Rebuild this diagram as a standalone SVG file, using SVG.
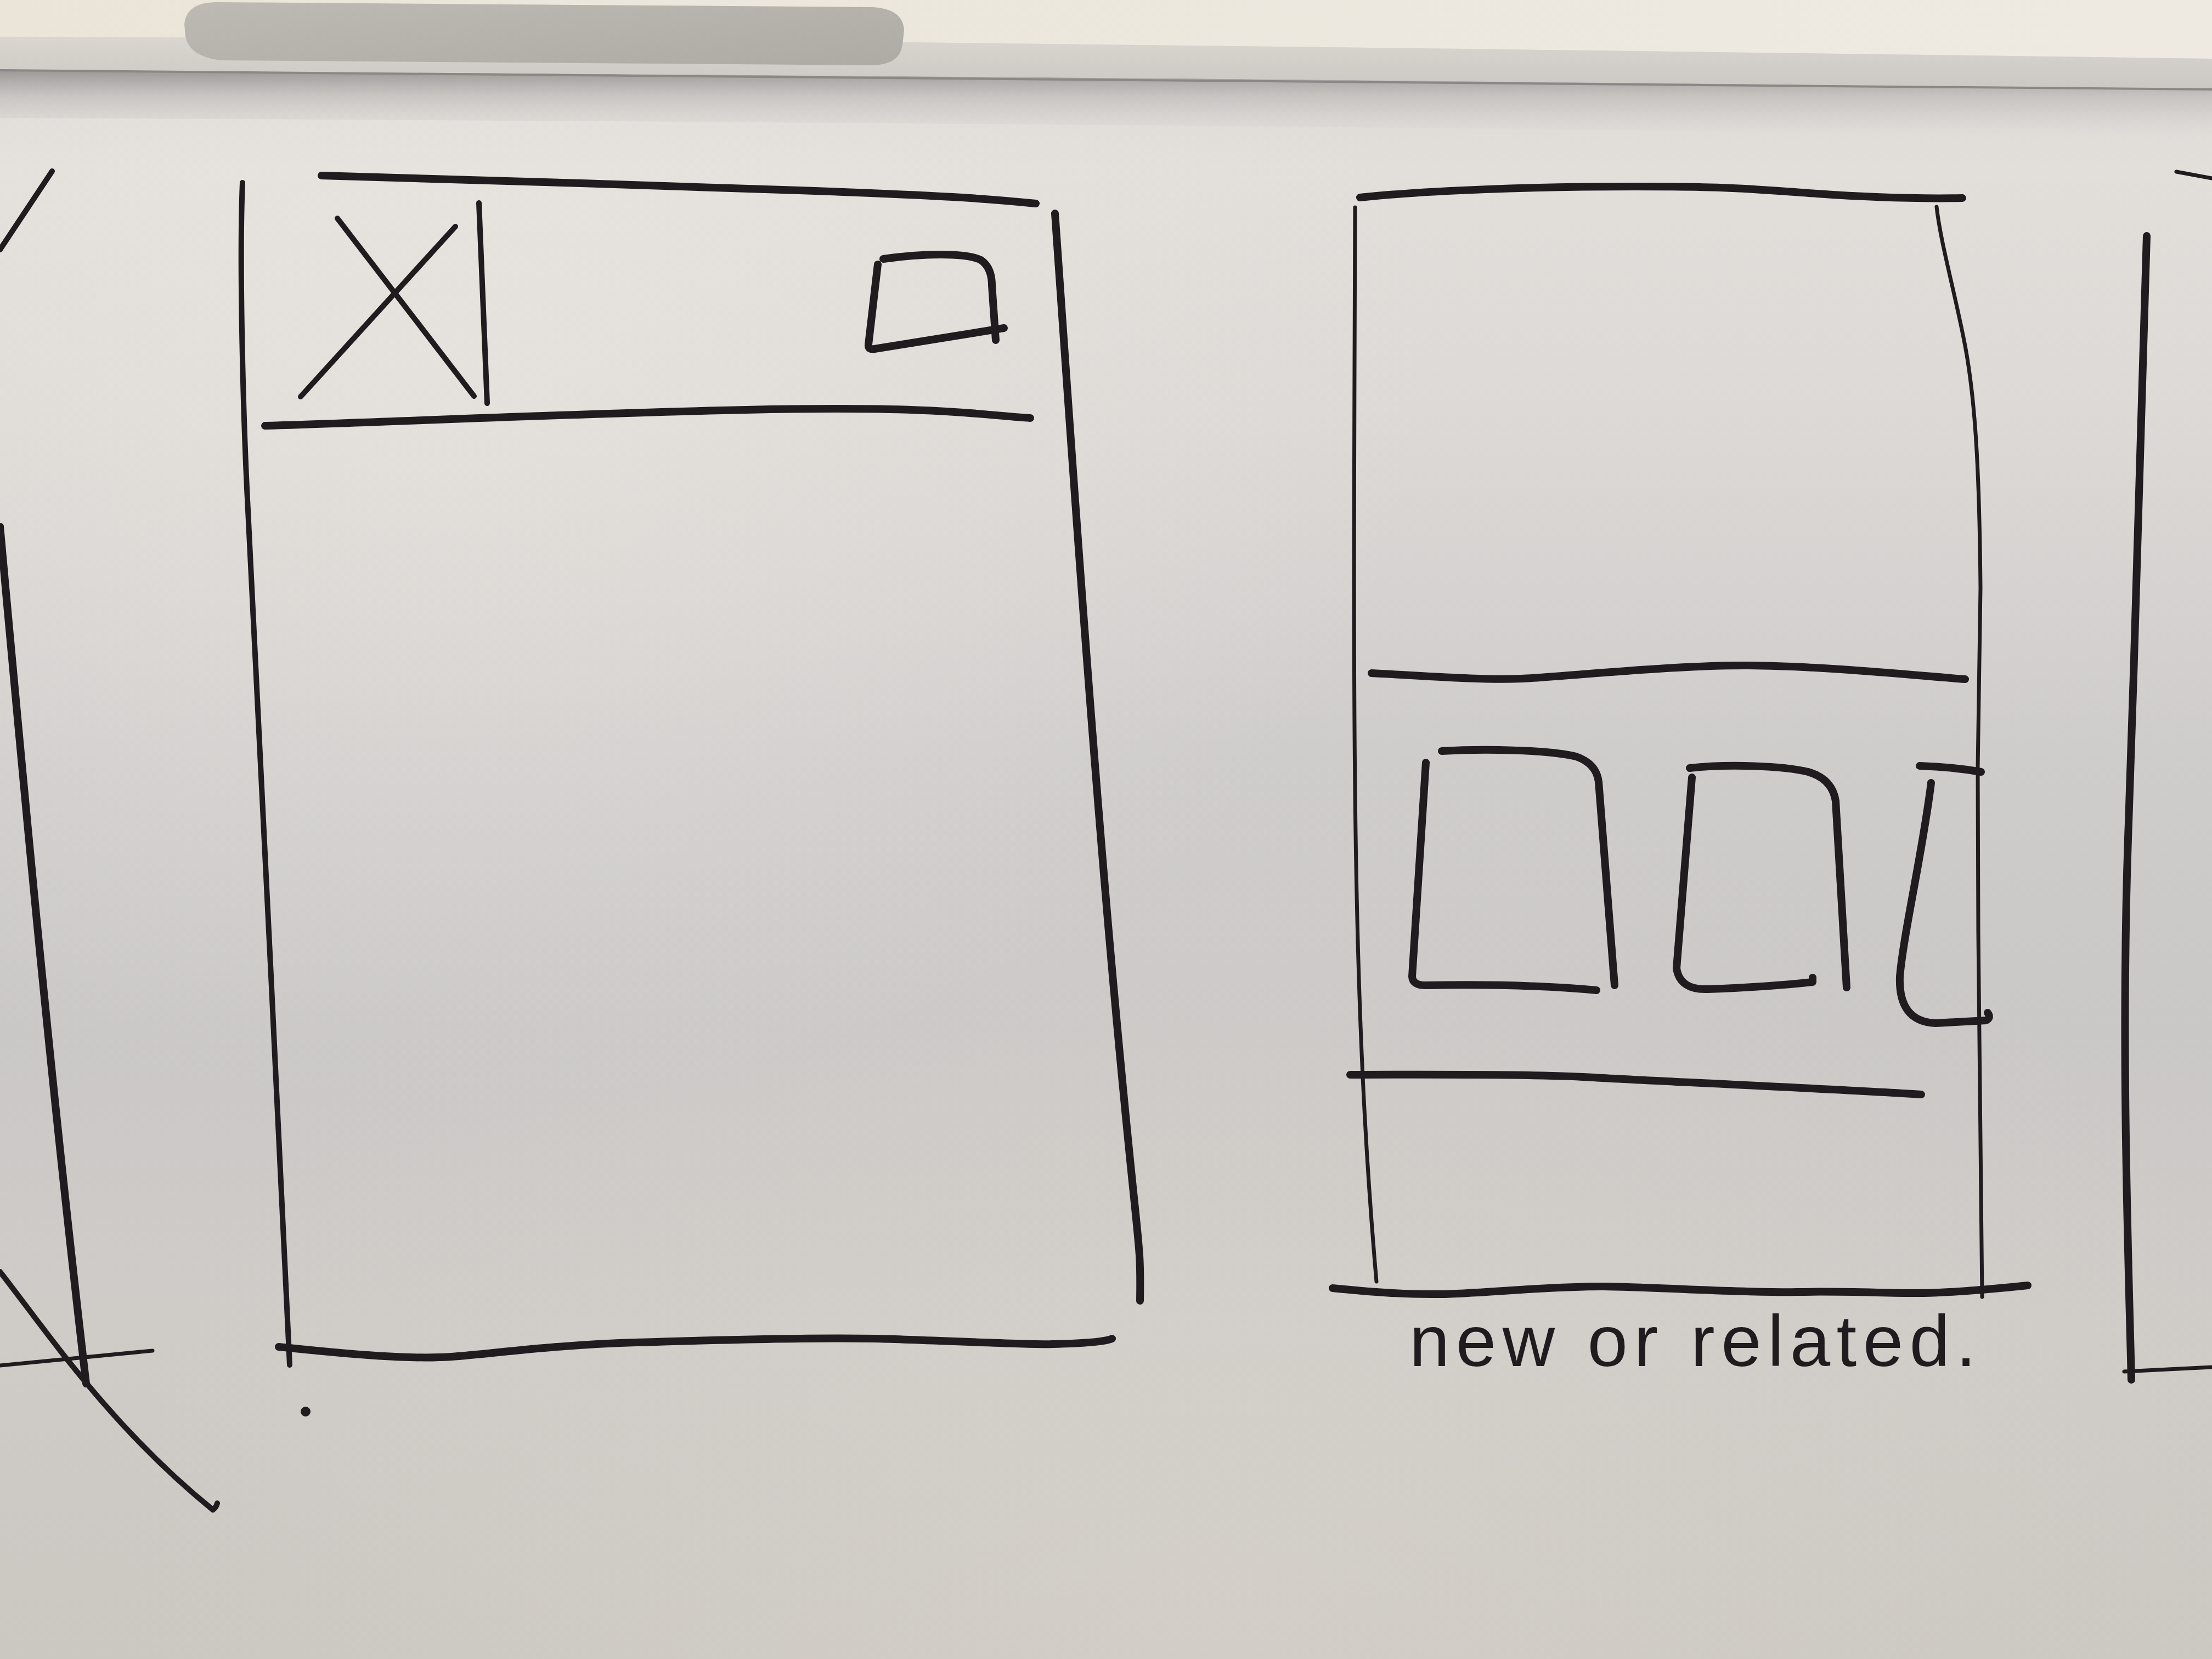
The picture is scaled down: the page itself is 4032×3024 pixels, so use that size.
<svg xmlns="http://www.w3.org/2000/svg" width="4032" height="3024" viewBox="0 0 4032 3024">
  <defs>
    <linearGradient id="boardShade" x1="0" y1="0" x2="0" y2="1">
      <stop offset="0" stop-color="#d8d5d2"/>
      <stop offset="0.1" stop-color="#e2dfdb"/>
      <stop offset="0.25" stop-color="#dcd9d6"/>
      <stop offset="0.45" stop-color="#cfcdcc"/>
      <stop offset="0.62" stop-color="#cac8c7"/>
      <stop offset="0.8" stop-color="#cfccc8"/>
      <stop offset="1" stop-color="#cbc7c1"/>
    </linearGradient>
    <radialGradient id="glowLeft" cx="0.2" cy="0.22" r="0.45">
      <stop offset="0" stop-color="#ece8e2" stop-opacity="0.55"/>
      <stop offset="1" stop-color="#ece8e2" stop-opacity="0"/>
    </radialGradient>
    <radialGradient id="glowBottom" cx="0.55" cy="0.95" r="0.5">
      <stop offset="0" stop-color="#d8d3cc" stop-opacity="0.6"/>
      <stop offset="1" stop-color="#d8d3cc" stop-opacity="0"/>
    </radialGradient>
    <linearGradient id="trayShadow" x1="0" y1="0" x2="0" y2="1">
      <stop offset="0" stop-color="#8e8b8b" stop-opacity="0.85"/>
      <stop offset="0.4" stop-color="#aaa7a7" stop-opacity="0.45"/>
      <stop offset="1" stop-color="#c4c2c1" stop-opacity="0"/>
    </linearGradient>
    <linearGradient id="wall" x1="0" y1="0" x2="1" y2="0">
      <stop offset="0" stop-color="#ebe5d9"/>
      <stop offset="1" stop-color="#eeeae2"/>
    </linearGradient>
    <linearGradient id="trayFace" x1="0" y1="0" x2="0" y2="1">
      <stop offset="0" stop-color="#d9d6d0"/>
      <stop offset="1" stop-color="#cbc8c3"/>
    </linearGradient>
    <linearGradient id="eraserFace" x1="0" y1="0" x2="1" y2="1">
      <stop offset="0" stop-color="#bdbab3"/>
      <stop offset="1" stop-color="#aeaba5"/>
    </linearGradient>
    <style>
      .ink { fill: none; stroke: #1f1b1e; stroke-linecap: round; stroke-linejoin: round; }
      .fine { stroke-width: 7; }
      .mid { stroke-width: 10; }
      .bold { stroke-width: 14; }
      .note { font-family: "Liberation Sans", "DejaVu Sans", sans-serif; font-size: 132px; fill: #1f1b1e; }
    </style>
  </defs>

  <!-- whiteboard surface -->
  <g id="board">
    <rect x="0" y="0" width="4032" height="3024" fill="url(#boardShade)"/>
    <rect x="0" y="0" width="4032" height="3024" fill="url(#glowLeft)"/>
    <rect x="0" y="0" width="4032" height="3024" fill="url(#glowBottom)"/>
    <!-- shadow cast by the tray -->
    <path d="M0,128 Q2200,140 4032,163 L4032,250 Q2200,225 0,215 Z" fill="url(#trayShadow)"/>
  </g>

  <!-- wall, marker tray and eraser -->
  <g id="tray">
    <path d="M0,0 H4032 V107 Q2800,90 1646,77 Q800,70 0,67 Z" fill="url(#wall)"/>
    <path d="M0,67 Q800,70 1646,77 Q2800,90 4032,107 V163 Q2200,140 0,128 Z" fill="url(#trayFace)"/>
    <path d="M0,128 Q2200,140 4032,163" fill="none" stroke="#8a8786" stroke-width="4"/>
    <path d="M395,4 L1590,13 Q1646,16 1648,55 L1645,82 Q1640,118 1590,119 L405,110 Q345,104 338,66 L336,44 Q340,4 395,4 Z" fill="url(#eraserFace)"/>
  </g>

  <!-- partial sketch at the left edge -->
  <g id="sketch-left">
    <path class="ink mid" d="M0,455 L95,312"/>
    <path class="ink bold" d="M0,960 C40,1400 90,1950 157,2522"/>
    <path class="ink fine" d="M0,2489 L278,2462"/>
    <path class="ink mid" d="M0,2318 C80,2420 200,2600 388,2752 Q394,2748 396,2740"/>
  </g>

  <!-- screen with close button and header -->
  <g id="screen-viewer">
    <path class="ink bold" d="M586,320 C800,326 1200,338 1457,347 S1800,362 1888,371"/>
    <path class="ink mid" d="M442,333 C436,480 443,760 452,930 S510,2100 528,2488"/>
    <path class="ink bold" d="M1923,389 C1945,700 1985,1300 2030,1800 S2080,2250 2078,2371"/>
    <path class="ink bold" d="M483,776 C700,770 1000,755 1361,747 S1800,758 1878,762"/>
    <path class="ink bold" d="M508,2455 C650,2470 750,2478 823,2473 S1000,2452 1159,2447 S1500,2438 1593,2440 S1880,2452 1918,2450 Q2010,2448 2027,2440"/>
    <g id="close-button">
      <path class="ink mid" d="M615,398 L864,722"/>
      <path class="ink mid" d="M830,413 L548,723"/>
      <path class="ink mid" d="M873,370 L888,735"/>
    </g>
    <g id="corner-icon">
      <path class="ink bold" d="M1600,482 L1583,628 Q1582,638 1594,636 L1830,598"/>
      <path class="ink bold" d="M1610,472 C1680,462 1760,460 1788,474 Q1808,488 1808,520 L1815,620"/>
    </g>
    <circle cx="557" cy="2573" r="9" fill="#1f1b1e"/>
  </g>

  <!-- screen with a row of related cards -->
  <g id="screen-related">
    <path class="ink bold" d="M2479,360 C2600,347 2800,340 2980,340 S3200,345 3312,353 S3520,362 3577,361"/>
    <path class="ink fine" d="M2470,378 C2467,1300 2462,1800 2509,2336"/>
    <path class="ink fine" d="M3530,377 C3537,440 3560,520 3580,620 S3608,850 3610,1072 L3605,1400 L3606,1700 L3613,2364"/>
    <path class="ink bold" d="M2500,1227 C2600,1232 2700,1240 2773,1237 S3050,1212 3188,1213 S3500,1232 3582,1238"/>
    <path class="ink bold" d="M2461,1959 C2700,1958 2850,1960 2905,1964 S3350,1985 3502,1995"/>
    <path class="ink bold" d="M2429,2348 C2500,2355 2560,2360 2627,2359 S2830,2344 2924,2345 S3180,2357 3275,2355 S3450,2358 3506,2357 S3650,2348 3696,2343"/>
    <g id="card-1">
      <path class="ink bold" d="M2628,1369 C2700,1365 2820,1366 2873,1379 Q2910,1392 2914,1425 L2943,1796"/>
      <path class="ink bold" d="M2599,1390 L2574,1780 Q2575,1796 2598,1796 C2700,1794 2800,1795 2910,1805"/>
    </g>
    <g id="card-2">
      <path class="ink bold" d="M3080,1400 C3150,1392 3250,1396 3296,1407 Q3340,1420 3346,1460 L3366,1800"/>
      <path class="ink bold" d="M3084,1417 L3056,1765 Q3062,1805 3113,1803 C3200,1800 3260,1795 3304,1790 L3304,1782"/>
    </g>
    <g id="card-3">
      <path class="ink bold" d="M3499,1396 Q3560,1398 3611,1407"/>
      <path class="ink bold" d="M3520,1427 C3505,1550 3470,1700 3463,1780 Q3460,1862 3528,1865 L3620,1860 Q3630,1855 3623,1846"/>
    </g>
    <text class="note" x="2569" y="2490" textLength="1033" lengthAdjust="spacing">new or related.</text>
  </g>

  <!-- partial sketch at the right edge -->
  <g id="sketch-right">
    <path class="ink fine" d="M3967,313 L4032,325"/>
    <path class="ink bold" d="M3913,430 C3905,600 3895,1100 3880,1500 S3880,2300 3885,2515"/>
    <path class="ink fine" d="M3872,2500 L4032,2492"/>
  </g>
</svg>
